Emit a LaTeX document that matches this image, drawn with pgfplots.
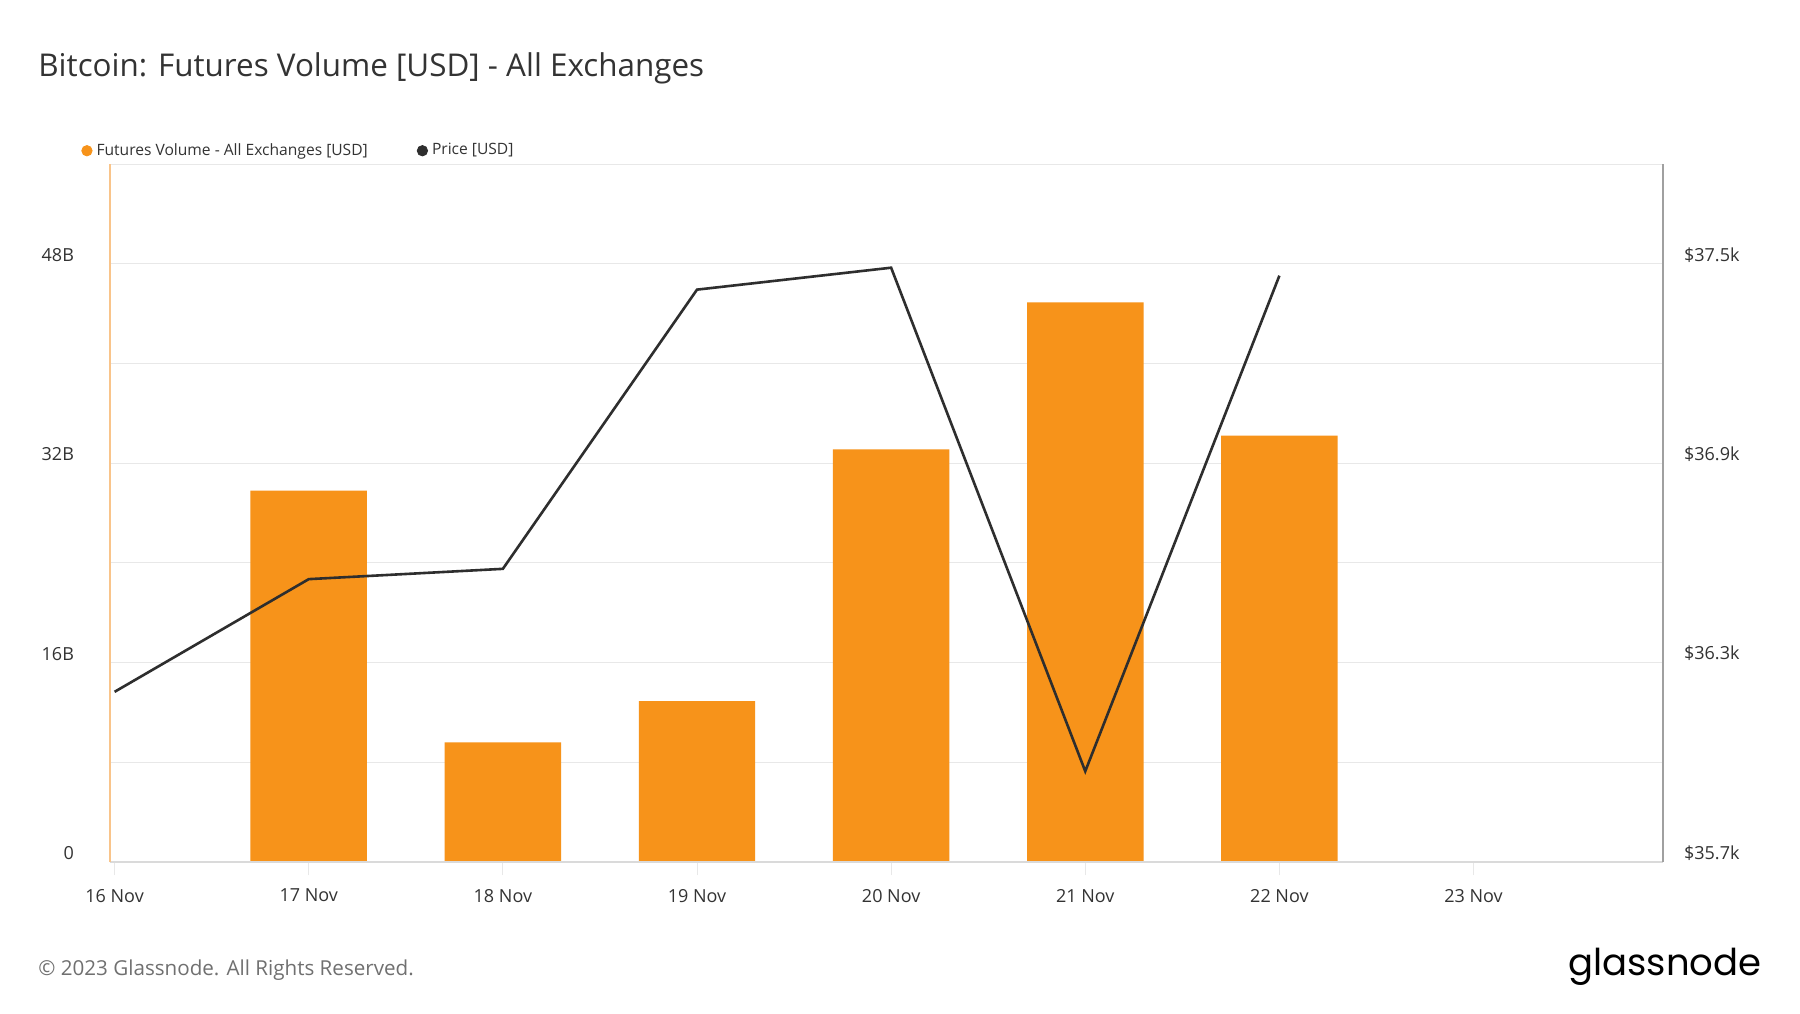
\documentclass[border=0pt]{standalone}
\usepackage{fontspec}
\setmainfont{Open Sans}
\newfontfamily\logofont{Poppins}
\usepackage{pgfplots}
\pgfplotsset{compat=1.18}
\definecolor{btc}{HTML}{F7931A}
\definecolor{pricec}{HTML}{2E2E2E}
\definecolor{gridc}{HTML}{E8E8E8}
\definecolor{txt}{HTML}{333333}
\definecolor{foot}{HTML}{707070}
\definecolor{leftax}{HTML}{F9C48A}
\definecolor{rightax}{HTML}{A0A0A0}
\definecolor{bottomax}{HTML}{DADADA}
\begin{document}
\begin{tikzpicture}
\useasboundingbox (0pt,0pt) rectangle (900pt,506.5pt);
\fill[white] (0pt,0pt) rectangle (900pt,506.5pt);
\node[anchor=west, text=txt, inner sep=0pt, font=\fontsize{15.7}{18}\selectfont] at (19pt,472.3pt) {Bitcoin: Futures Volume [USD] - All Exchanges};
\node[anchor=west, text=foot, inner sep=0pt, font=\fontsize{10.3}{12}\selectfont] at (19pt,21.5pt) {\textcopyright{} 2023 Glassnode. All Rights Reserved.};
\node[anchor=east, text=black, inner sep=0pt, font=\logofont\fontsize{18.5}{22}\selectfont] at (881pt,23pt) {glassnode};

\begin{axis}[
  name=main,
  at={(55pt,75.5pt)}, anchor=south west,
  scale only axis, width=776.5pt, height=349pt,
  xmin=-0.0237, xmax=7.976, ymin=0, ymax=56,
  xtick={0,1,2,3,4,5,6,7},
  xticklabels={16 Nov,17 Nov,18 Nov,19 Nov,20 Nov,21 Nov,22 Nov,23 Nov},
  ytick={0,8,16,24,32,40,48},
  yticklabels={0,{},16B,{},32B,{},48B},
  ymajorgrids, grid style={gridc, line width=0.5pt},
  axis line style={draw=none},
  tick pos=left, tick align=outside, major tick length=6.5pt,
  xtick style={draw=gridc, line width=0.5pt},
  ytick style={draw=none},
  ticklabel style={font=\fontsize{9}{11}\selectfont, text=txt},
  yticklabel style={anchor=east, xshift=-8pt, yshift=4.5pt},
  xticklabel style={yshift=-3.5pt},
  /pgf/number format/assume math mode=true,
  clip=false,
]
\addplot[ybar, bar width=0.6, bar shift=0pt, fill=btc, draw=none]
  coordinates {(1,29.8) (2,9.6) (3,12.9) (4,33.1) (5,44.9) (6,34.2)};
\draw[gridc, line width=0.5pt] (rel axis cs:0,1) -- (rel axis cs:1,1);
\draw[bottomax, line width=1pt] (rel axis cs:0,0) -- (rel axis cs:1,0);
\draw[leftax, line width=0.7pt] (rel axis cs:0,0) -- (rel axis cs:0,1);
\draw[rightax, line width=0.8pt] (rel axis cs:1,0) -- (rel axis cs:1,1);
\end{axis}

\begin{axis}[
  at={(main.south west)}, anchor=south west,
  scale only axis, width=776.5pt, height=349pt,
  xmin=-0.0237, xmax=7.976, ymin=35.7, ymax=37.8,
  axis x line=none, axis y line*=right,
  axis line style={draw=none},
  ytick={35.7,36.3,36.9,37.5},
  yticklabels={\$35.7k,\$36.3k,\$36.9k,\$37.5k},
  ytick style={draw=none},
  ticklabel style={font=\fontsize{9}{11}\selectfont, text=txt},
  yticklabel style={anchor=west, xshift=7pt, yshift=4.5pt},
  legend columns=2,
  legend cell align=left,
  legend style={draw=none, fill=none, inner sep=0pt, at={(-0.0187,1.019)}, anchor=west,
    font=\fontsize{7.8}{9}\selectfont, text=txt,
    /tikz/every even column/.append style={column sep=22.5pt}},
]
\addlegendimage{legend image code/.code={\fill[btc] (2.6pt,0pt) circle (2.6pt);}}
\addlegendentry{Futures Volume - All Exchanges [USD]}
\addlegendimage{legend image code/.code={\fill[pricec] (2.6pt,0pt) circle (2.6pt);}}
\addlegendentry{Price [USD]}
\addplot[pricec, line width=1.3pt, forget plot]
  coordinates {(0,36.212) (1,36.551) (2,36.582) (3,37.422) (4,37.488) (5,35.973) (6,37.464)};
\end{axis}
\end{tikzpicture}
\end{document}
